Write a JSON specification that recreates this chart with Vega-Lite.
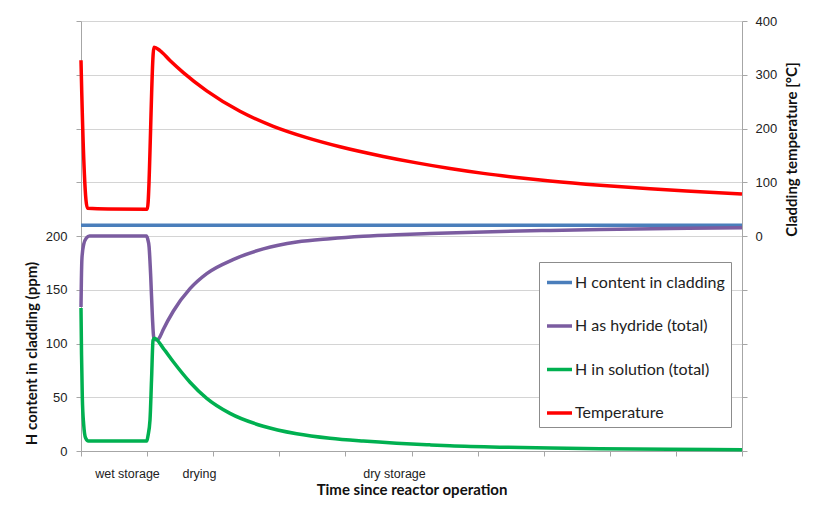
{
  "$schema": "https://vega.github.io/schema/vega-lite/v6.json",
  "width": 661,
  "height": 430,
  "autosize": {"type": "none"},
  "padding": {"left": 81, "top": 21, "right": 75, "bottom": 55},
  "background": "white",
  "config": {
    "view": {"stroke": null},
    "axis": {
      "labelFont": "Liberation Sans",
      "labelFontSize": 13,
      "labelColor": "#222222",
      "titleFont": "Lato",
      "titleFontSize": 15,
      "titleFontWeight": "bold",
      "titleColor": "#111111",
      "domainColor": "#A6A6A6",
      "tickColor": "#A6A6A6",
      "gridColor": "#D4D4D4",
      "tickSize": 5
    }
  },
  "data": {
    "values": [
      {"t": 0, "v": 210, "s": "H content in cladding"},
      {"t": 10, "v": 210, "s": "H content in cladding"},

      {"t": 0, "v": 134, "s": "H as hydride (total)"},
      {"t": 0.006, "v": 160, "s": "H as hydride (total)"},
      {"t": 0.015, "v": 180, "s": "H as hydride (total)"},
      {"t": 0.04, "v": 192, "s": "H as hydride (total)"},
      {"t": 0.08, "v": 198, "s": "H as hydride (total)"},
      {"t": 0.13, "v": 200, "s": "H as hydride (total)"},
      {"t": 0.99, "v": 200, "s": "H as hydride (total)"},
      {"t": 1.01, "v": 197, "s": "H as hydride (total)"},
      {"t": 1.03, "v": 190, "s": "H as hydride (total)"},
      {"t": 1.055, "v": 162, "s": "H as hydride (total)"},
      {"t": 1.08, "v": 125, "s": "H as hydride (total)"},
      {"t": 1.1, "v": 106, "s": "H as hydride (total)"},
      {"t": 1.13, "v": 103.5, "s": "H as hydride (total)"},
      {"t": 1.17, "v": 104, "s": "H as hydride (total)"},
      {"t": 1.2, "v": 107, "s": "H as hydride (total)"},
      {"t": 1.245, "v": 113, "s": "H as hydride (total)"},
      {"t": 1.396, "v": 130, "s": "H as hydride (total)"},
      {"t": 1.649, "v": 151, "s": "H as hydride (total)"},
      {"t": 1.902, "v": 165, "s": "H as hydride (total)"},
      {"t": 2.3, "v": 178, "s": "H as hydride (total)"},
      {"t": 2.758, "v": 188, "s": "H as hydride (total)"},
      {"t": 3.263, "v": 194.4, "s": "H as hydride (total)"},
      {"t": 3.767, "v": 197.5, "s": "H as hydride (total)"},
      {"t": 4.27, "v": 199.7, "s": "H as hydride (total)"},
      {"t": 4.774, "v": 201.2, "s": "H as hydride (total)"},
      {"t": 5.277, "v": 202.3, "s": "H as hydride (total)"},
      {"t": 6.086, "v": 203.8, "s": "H as hydride (total)"},
      {"t": 7.095, "v": 205.2, "s": "H as hydride (total)"},
      {"t": 7.852, "v": 206.1, "s": "H as hydride (total)"},
      {"t": 8.91, "v": 207, "s": "H as hydride (total)"},
      {"t": 10, "v": 207.7, "s": "H as hydride (total)"},

      {"t": 0, "v": 133, "s": "H in solution (total)"},
      {"t": 0.008, "v": 90, "s": "H in solution (total)"},
      {"t": 0.02, "v": 50, "s": "H in solution (total)"},
      {"t": 0.04, "v": 25, "s": "H in solution (total)"},
      {"t": 0.07, "v": 12, "s": "H in solution (total)"},
      {"t": 0.11, "v": 9.3, "s": "H in solution (total)"},
      {"t": 0.995, "v": 9.3, "s": "H in solution (total)"},
      {"t": 1.013, "v": 14, "s": "H in solution (total)"},
      {"t": 1.044, "v": 29, "s": "H in solution (total)"},
      {"t": 1.067, "v": 66, "s": "H in solution (total)"},
      {"t": 1.09, "v": 103, "s": "H in solution (total)"},
      {"t": 1.11, "v": 104.8, "s": "H in solution (total)"},
      {"t": 1.245, "v": 95.5, "s": "H in solution (total)"},
      {"t": 1.396, "v": 83, "s": "H in solution (total)"},
      {"t": 1.649, "v": 64, "s": "H in solution (total)"},
      {"t": 1.902, "v": 49, "s": "H in solution (total)"},
      {"t": 2.254, "v": 35, "s": "H in solution (total)"},
      {"t": 2.758, "v": 23, "s": "H in solution (total)"},
      {"t": 3.263, "v": 16, "s": "H in solution (total)"},
      {"t": 3.767, "v": 11.8, "s": "H in solution (total)"},
      {"t": 4.27, "v": 9.2, "s": "H in solution (total)"},
      {"t": 4.774, "v": 7.2, "s": "H in solution (total)"},
      {"t": 5.277, "v": 5.7, "s": "H in solution (total)"},
      {"t": 5.58, "v": 4.9, "s": "H in solution (total)"},
      {"t": 6.34, "v": 3.6, "s": "H in solution (total)"},
      {"t": 7.1, "v": 2.8, "s": "H in solution (total)"},
      {"t": 7.852, "v": 2.2, "s": "H in solution (total)"},
      {"t": 8.9, "v": 1.6, "s": "H in solution (total)"},
      {"t": 10, "v": 1.2, "s": "H in solution (total)"},

      {"t": 0, "v": 327, "s": "Temperature"},
      {"t": 0.005, "v": 300, "s": "Temperature"},
      {"t": 0.098, "v": 51.5, "s": "Temperature"},
      {"t": 0.41, "v": 50.2, "s": "Temperature"},
      {"t": 1.003, "v": 50, "s": "Temperature"},
      {"t": 1.104, "v": 351, "s": "Temperature"},
      {"t": 1.195, "v": 345, "s": "Temperature"},
      {"t": 1.35, "v": 326, "s": "Temperature"},
      {"t": 1.548, "v": 304, "s": "Temperature"},
      {"t": 1.902, "v": 270, "s": "Temperature"},
      {"t": 2.405, "v": 232, "s": "Temperature"},
      {"t": 2.909, "v": 204, "s": "Temperature"},
      {"t": 3.414, "v": 183, "s": "Temperature"},
      {"t": 3.918, "v": 166, "s": "Temperature"},
      {"t": 4.573, "v": 148, "s": "Temperature"},
      {"t": 5.079, "v": 136, "s": "Temperature"},
      {"t": 5.582, "v": 125.5, "s": "Temperature"},
      {"t": 6.086, "v": 116.5, "s": "Temperature"},
      {"t": 6.591, "v": 109, "s": "Temperature"},
      {"t": 7.095, "v": 102.5, "s": "Temperature"},
      {"t": 7.852, "v": 94.5, "s": "Temperature"},
      {"t": 8.608, "v": 88, "s": "Temperature"},
      {"t": 9.365, "v": 82.5, "s": "Temperature"},
      {"t": 10, "v": 78.1, "s": "Temperature"}
    ]
  },
  "encoding": {
    "x": {
      "field": "t",
      "type": "quantitative",
      "scale": {"domain": [0, 10], "nice": false},
      "axis": {
        "values": [0, 0.696, 1, 1.785, 2, 3, 4, 4.735, 5, 6, 7, 8, 9, 10],
        "labelExpr": "datum.value == 0.696 ? 'wet storage' : datum.value == 1.785 ? 'drying' : datum.value == 4.735 ? 'dry storage' : ''",
        "tickOpacity": {"condition": {"test": "datum.value % 1 != 0", "value": 0}, "value": 1},
        "labelOverlap": false,
        "labelPadding": 11,
        "labelFontSize": 12.5,
        "grid": false,
        "title": "Time since reactor operation",
        "titlePadding": 3
      }
    },
    "color": {
      "field": "s",
      "type": "nominal",
      "scale": {
        "domain": ["H content in cladding", "H as hydride (total)", "H in solution (total)", "Temperature"],
        "range": ["#4A7EBB", "#7B5CA0", "#00B050", "#FF0000"]
      },
      "legend": {
        "orient": "none",
        "legendX": 458,
        "legendY": 241,
        "direction": "vertical",
        "title": null,
        "symbolType": "stroke",
        "symbolSize": 625,
        "symbolStrokeWidth": 3.5,
        "strokeColor": "#8C8C8C",
        "fillColor": "white",
        "padding": 6,
        "rowPadding": 20.5,
        "labelFont": "Lato",
        "labelFontSize": 16,
        "labelColor": "#222222",
        "labelOffset": 1,
        "labelLimit": 300
      }
    }
  },
  "layer": [
    {
      "transform": [{"filter": "datum.s != 'Temperature'"}],
      "mark": {"type": "line", "strokeWidth": 3.5, "interpolate": "monotone"},
      "encoding": {
        "y": {
          "field": "v",
          "type": "quantitative",
          "scale": {"domain": [0, 400], "nice": false},
          "axis": {
            "values": [0, 50, 100, 150, 200, 250, 300, 350, 400],
            "labelExpr": "datum.value <= 200 ? datum.label : ''",
            "grid": true,
            "labelPadding": 9,
            "title": "H content in cladding (ppm)",
            "titleY": 332,
            "titlePadding": 6
          }
        }
      }
    },
    {
      "transform": [{"filter": "datum.s == 'Temperature'"}],
      "mark": {"type": "line", "strokeWidth": 3.5, "interpolate": "monotone"},
      "encoding": {
        "y": {
          "field": "v",
          "type": "quantitative",
          "scale": {"domain": [-400, 400], "nice": false},
          "axis": {
            "orient": "right",
            "values": [-400, -300, -200, -100, 0, 100, 200, 300, 400],
            "labelExpr": "datum.value >= 0 ? datum.label : ''",
            "grid": false,
            "labelPadding": 8,
            "title": "Cladding temperature [°C]",
            "titleAngle": -90,
            "titleBaseline": "top",
            "titleY": 128,
            "titlePadding": 8
          }
        }
      }
    }
  ],
  "resolve": {"scale": {"y": "independent"}, "axis": {"y": "independent"}}
}
